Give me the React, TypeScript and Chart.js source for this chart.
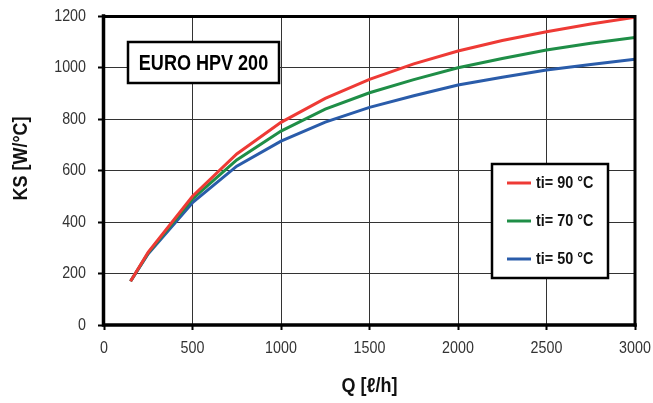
import React, { useEffect, useRef } from "react";
import { Chart, registerables } from "chart.js";

Chart.register(...registerables);

const flowQ = [150, 250, 500, 750, 1000, 1250, 1500, 1750, 2000, 2250, 2500, 2750, 3000];
const ks90 = [170, 283, 500, 664, 787, 880, 954, 1014, 1064, 1105, 1139, 1169, 1195];
const ks70 = [170, 280, 490, 641, 753, 838, 902, 953, 999, 1035, 1068, 1094, 1117];
const ks50 = [170, 277, 475, 617, 714, 788, 845, 890, 932, 962, 990, 1012, 1032];
const seriesLabels = ["ti= 90 °C", "ti= 70 °C", "ti= 50 °C"];
const seriesColors = ["#ee3a35", "#1f8e47", "#2a5caa"];
const boxTitle = "EURO HPV 200";
const xTitle = "Q [ℓ/h]";
const yTitle = "KS [W/°C]";

const FONT = "'Liberation Sans', Arial, sans-serif";

function drawText(ctx: any, text: string, x: number, y: number, font: string, align: string, sx: number, color: string, rot = 0) {
  ctx.save();
  ctx.translate(x, y);
  if (rot) ctx.rotate(rot);
  ctx.scale(sx, 1);
  ctx.font = font;
  ctx.fillStyle = color;
  ctx.textAlign = align;
  ctx.textBaseline = "middle";
  ctx.fillText(text, 0, 0);
  ctx.restore();
}

const framePlugin = {
  id: "frameAndBoxes",
  afterDatasetsDraw(chart: any) {
    const ctx = chart.ctx;
    const a = chart.chartArea;
    ctx.save();
    ctx.strokeStyle = "#000";
    ctx.lineCap = "square";
    ctx.lineWidth = 3.5;
    ctx.beginPath();
    ctx.moveTo(a.left - 0.5, a.top);
    ctx.lineTo(a.left - 0.5, a.bottom);
    ctx.lineTo(a.right, a.bottom);
    ctx.stroke();
    ctx.lineWidth = 3;
    ctx.beginPath();
    ctx.moveTo(a.left, a.top + 0.5);
    ctx.lineTo(a.right, a.top + 0.5);
    ctx.lineTo(a.right, a.bottom);
    ctx.stroke();

    // tick labels (condensed)
    const xs = chart.scales.x, ys = chart.scales.y;
    const tickFont = `17px ${FONT}`;
    ys.ticks.forEach((t: any) => {
      drawText(ctx, String(t.value), a.left - 18, ys.getPixelForValue(t.value), tickFont, "right", 0.84, "#333");
    });
    xs.ticks.forEach((t: any) => {
      drawText(ctx, String(t.value), xs.getPixelForValue(t.value), a.bottom + 23, tickFont, "center", 0.84, "#333");
    });
    // axis titles
    const titleFont = `bold 20px ${FONT}`;
    drawText(ctx, xTitle, (a.left + a.right) / 2, 386, titleFont, "center", 0.9, "#111");
    drawText(ctx, yTitle, 21, (a.top + a.bottom) / 2 - 12, titleFont, "center", 0.9, "#111", -Math.PI / 2);

    // title box
    const bx = a.left + 24, by = a.top + 26, bw = 151, bh = 41;
    ctx.fillStyle = "#fff";
    ctx.fillRect(bx, by, bw, bh);
    ctx.lineWidth = 2.5;
    ctx.lineCap = "butt";
    ctx.strokeStyle = "#000";
    ctx.strokeRect(bx, by, bw, bh);
    drawText(ctx, boxTitle, bx + bw / 2, by + bh / 2 + 1, `bold 22px ${FONT}`, "center", 0.82, "#000");

    // legend box
    const lx = 492, ly = 164, lw = 116, lh = 114;
    ctx.fillStyle = "#fff";
    ctx.fillRect(lx, ly, lw, lh);
    ctx.lineWidth = 2.5;
    ctx.strokeStyle = "#000";
    ctx.strokeRect(lx, ly, lw, lh);
    chart.data.datasets.forEach((ds: any, i: number) => {
      const yy = ly + 19 + i * 38;
      ctx.strokeStyle = ds.borderColor;
      ctx.lineWidth = 3;
      ctx.beginPath();
      ctx.moveTo(lx + 15, yy);
      ctx.lineTo(lx + 39, yy);
      ctx.stroke();
      drawText(ctx, ds.label, lx + 44, yy + 1, `bold 16px ${FONT}`, "left", 0.9, "#111");
    });
    ctx.restore();
  },
};

export default function App() {
  const ref = useRef<HTMLCanvasElement | null>(null);
  useEffect(() => {
    if (!ref.current) return;
    const mk = (vals: number[]) => flowQ.map((q, i) => ({ x: q, y: vals[i] }));
    const chart = new Chart(ref.current, {
      type: "scatter",
      data: {
        datasets: [ks90, ks70, ks50].map((vals, i) => ({
          label: seriesLabels[i],
          data: mk(vals),
          showLine: true,
          borderColor: seriesColors[i],
          backgroundColor: seriesColors[i],
          borderWidth: 3,
          pointRadius: 0,
          tension: 0,
        })),
      },
      options: {
        responsive: false,
        animation: false,
        layout: { padding: { top: 16, right: 18, left: 0, bottom: 0 } },
        plugins: { legend: { display: false }, tooltip: { enabled: false } },
        scales: {
          x: {
            type: "linear",
            min: 0,
            max: 3000,
            afterFit: (s: any) => { s.height = 78; },
            ticks: { stepSize: 500, display: false },
            grid: { color: "#333", lineWidth: 1, tickLength: 5, tickColor: "#000", tickWidth: 2 },
            border: { display: false },
            title: { display: false },
          },
          y: {
            min: 0,
            max: 1200,
            afterFit: (s: any) => { s.width = 104; },
            ticks: { stepSize: 200, display: false },
            grid: { color: "#333", lineWidth: 1, tickLength: 6, tickColor: "#000", tickWidth: 2 },
            border: { display: false },
            title: { display: false },
          },
        },
      },
      plugins: [framePlugin],
    } as any);
    return () => chart.destroy();
  }, []);
  return (
    <div style={{ position: "absolute", left: 0, top: 0, width: 653, height: 403, background: "#fff" }}>
      <canvas ref={ref} width={653} height={403} />
    </div>
  );
}
